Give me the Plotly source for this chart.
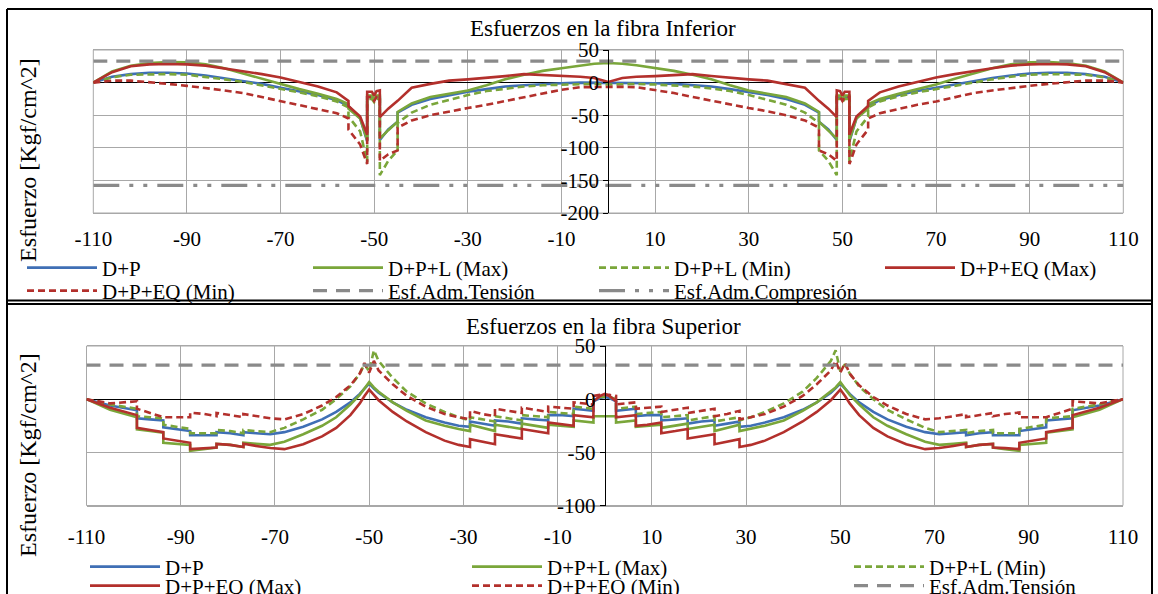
import plotly.graph_objects as go

# ---------------- data ----------------
X_TICKS = [-110, -90, -70, -50, -30, -10, 10, 30, 50, 70, 90, 110]
X_TICK_TEXT = ["-110", "-90", "-70", "-50", "-30", "-10", "10", "30", "50", "70", "90", "110"]
TOP_Y_TICKS = [-200, -150, -100, -50, 0, 50]
TOP_Y_TICK_TEXT = ["-200", "-150", "-100", "-50", "0", "50"]
BOT_Y_TICKS = [-100, -50, 0, 50]
BOT_Y_TICK_TEXT = ["-100", "-50", "0", "50"]

# Top chart: Esfuerzos en la fibra Inferior
TOP_X_L = [-110, -106, -102, -98, -94, -90, -86, -82, -78, -74, -70, -66, -62, -58, -55.5, -55.5, -53, -51.5, -51.5,
           -50.5, -50, -49.5, -48.8, -48.8, -47, -45, -45, -42, -38, -34, -30, -26, -22, -18, -14, -10, -6, -3, 0]
TOP_X_R = [3, 6, 10, 14, 18, 22, 26, 30, 34, 38, 42, 45, 45, 47, 48.8, 48.8, 49.5, 50, 50.5, 51.5, 51.5, 53, 55.5,
           55.5, 58, 62, 66, 70, 74, 78, 82, 86, 90, 94, 98, 102, 106, 110]

top_dp_l = [0, 9, 13, 15, 15, 14, 11, 7, 3, -2, -8, -13, -19, -27, -36, -36, -55, -90, -22, -22, -27, -22, -22, -88,
            -72, -60, -46, -34, -25, -19, -14, -10, -6, -4, -2, -1, 0, 0, -1]
top_dp_r = [0, 0, -1, -2, -4, -6, -10, -14, -19, -25, -34, -46, -60, -72, -88, -22, -22, -27, -22, -22, -90, -55,
            -36, -36, -27, -19, -13, -8, -2, 3, 7, 11, 14, 15, 15, 13, 9, 0]

top_lmax_l = [0, 17, 26, 30, 31.5, 31, 28, 22, 14, 6, -3, -10, -17, -25, -33, -40, -55, -88, -20, -20, -26, -20, -20,
              -86, -73, -60, -45, -32, -22, -17, -12, -4, 5, 12, 18, 22, 26.5, 29, 30]
top_lmax_r = [29, 26.5, 22, 18, 12, 5, -4, -12, -17, -22, -32, -45, -60, -73, -86, -20, -20, -26, -20, -20, -88, -55,
              -40, -33, -25, -17, -10, -3, 6, 14, 22, 28, 31, 31.5, 30, 26, 17, 0]

top_lmin_l = [0, 8, 12, 13, 13, 12, 9, 5, 1, -4, -10, -15, -21, -29, -38, -52, -75, -122, -25, -25, -30, -25, -25,
              -142, -120, -104, -62, -46, -34, -26, -19, -13, -9, -6, -4, -3, -2, -2, -3]
top_lmin_r = [-2, -2, -3, -4, -6, -9, -13, -19, -26, -34, -46, -62, -104, -120, -142, -25, -25, -30, -25, -25, -122,
              -75, -52, -38, -29, -21, -15, -10, -4, 1, 5, 9, 12, 13, 13, 12, 8, 0]

top_eqmax_l = [0, 16, 25, 28, 28.5, 28, 26, 22, 18, 13, 7.7, 1, -6, -15, -28, -36, -52, -80, -14, -14, -20, -13, -12,
               -53, -40, -28, -28, -8, -2, 3, 5, 7, 10, 13, 12, 10, 9, 7, 1]
top_eqmax_r = [7, 9, 10, 12, 13, 10, 7, 5, 3, -2, -8, -28, -28, -40, -53, -12, -13, -20, -14, -14, -80, -52, -36,
               -28, -15, -6, 1, 7.7, 13, 18, 22, 26, 28, 28.5, 28, 25, 16, 0]

top_eqmin_l = [0, 3, 3, 1, -2, -5, -8, -12, -16, -22, -29, -34, -40, -47, -55, -72, -95, -125, -22, -22, -28, -22,
               -22, -120, -110, -104, -69, -58, -50, -44, -39, -34, -28, -22, -16, -11, -7, -6.5, -7]
top_eqmin_r = [-6.5, -7, -11, -16, -22, -28, -34, -39, -44, -50, -58, -69, -104, -110, -120, -22, -22, -28, -22, -22,
               -125, -95, -72, -55, -47, -40, -34, -29, -22, -16, -12, -8, -5, -2, 1, 3, 3, 0]

TOP_LIMIT_X = [-110, 110]
TOP_TENSION = [33, 33]
TOP_COMPRESSION = [-157.5, -157.5]

# Bottom chart: Esfuerzos en la fibra Superior
BOT_X_L = [-110, -105, -99.3, -99.3, -96.5, -93.7, -93.7, -91, -88, -88, -85, -82.4, -82.4, -79.5, -76.7, -76.7, -74,
           -71, -71, -68, -64, -60, -57, -54, -52, -51, -50, -49, -48, -45, -42, -38, -34, -31, -28.6, -28.6, -26,
           -23.3, -23.3, -20.5, -17.6, -17.6, -15, -12, -12, -9, -6.6, -6.6, -4.5, -2.4, -2.4, -1, 0]
BOT_X_R = [1, 2.4, 2.4, 4.5, 6.6, 6.6, 9, 12, 12, 15, 17.6, 17.6, 20.5, 23.3, 23.3, 26, 28.6, 28.6, 31, 34, 38, 42,
           45, 48, 49, 50, 51, 52, 54, 57, 60, 64, 68, 71, 71, 74, 76.7, 76.7, 79.5, 82.4, 82.4, 85, 88, 88, 91, 93.7,
           93.7, 96.5, 99.3, 99.3, 105, 110]

bot_dp_l = [0, -6, -10.5, -18, -19, -20, -26.5, -28, -30, -34, -34, -34, -31, -32, -34, -31, -32, -33, -33, -31, -26,
            -19, -12, -3, 5, 10, 14.6, 10, 6, -3, -10, -17, -22, -25, -26, -21, -23, -25, -20, -21, -23, -18, -19,
            -20, -15, -15, -16, -9, -10, -11, -2, 1, 2]
bot_dp_r = [1, -2, -11, -10, -9, -16, -15, -15, -20, -19, -18, -23, -21, -20, -25, -23, -21, -26, -25, -22, -17, -10,
            -3, 6, 10, 14.6, 10, 5, -3, -12, -19, -26, -31, -33, -33, -32, -31, -34, -32, -31, -34, -34, -34, -30, -28,
            -26.5, -20, -19, -18, -10.5, -6, 0]

bot_lmax_l = [0, -10, -17, -28.5, -30, -31.5, -41, -42, -43, -48.5, -47, -45.5, -42, -43, -45, -41, -42, -43, -43,
              -40, -33, -25, -17, -5, 4, 10, 16, 11, 7, -3, -11, -20, -25, -28, -30, -24, -27, -30, -24, -26, -28,
              -23, -25, -27, -24, -25, -26, -20, -21, -22, -16, -16, -16]
bot_lmax_r = [-16, -16, -22, -21, -20, -26, -25, -24, -27, -25, -23, -28, -26, -24, -30, -27, -24, -30, -28, -25,
              -20, -11, -3, 7, 11, 16, 10, 4, -5, -17, -25, -33, -40, -43, -43, -42, -41, -45, -43, -42, -45.5, -47,
              -48.5, -43, -42, -41, -31.5, -30, -28.5, -17, -10, 0]

bot_lmin_l = [0, -5, -9, -16, -17, -18, -24, -26, -28, -32, -32, -32, -29, -30, -32, -29, -30, -31, -31, -27, -19,
              -10, 0, 12, 24, 33, 26, 46, 36, 20, 7, -4, -12, -17, -20, -17, -19, -21, -16, -18, -20, -15, -16, -17,
              -12, -13, -14, -7, -8, -9, 0, 2, 2]
bot_lmin_r = [2, 0, -9, -8, -7, -14, -13, -12, -17, -16, -15, -20, -18, -16, -21, -19, -17, -20, -17, -12, -4, 7,
              20, 36, 46, 26, 33, 24, 12, 0, -10, -19, -27, -31, -31, -30, -29, -32, -30, -29, -32, -32, -32, -28,
              -26, -24, -18, -17, -16, -9, -5, 0]

bot_eqmax_l = [0, -8, -15, -27, -29, -31, -37, -39, -41, -47, -46, -45.5, -42, -43, -45, -42, -44, -46, -46, -47,
               -42.4, -35, -27, -15, -4, 3, 9, 4, -1, -12, -21, -31, -39, -43, -45, -37.6, -40, -42.4, -33, -35, -37,
               -28, -30, -32, -22, -24, -25, -15, -16, -17, -2, 3, 5]
bot_eqmax_r = [3, -2, -17, -16, -15, -25, -24, -22, -32, -30, -28, -37, -35, -33, -42.4, -40, -37.6, -45, -43, -39,
               -31, -21, -12, -1, 4, 9, 3, -4, -15, -27, -35, -42.4, -47, -46, -46, -44, -42, -45, -43, -42, -45.5,
               -46, -47, -41, -39, -37, -31, -29, -27, -15, -8, 0]

bot_eqmin_l = [0, -4, -2, -9, -13, -17, -17, -17, -17, -12.6, -14, -16, -13, -15, -17, -14, -16, -18, -18, -19, -14,
               -6, 2, 13, 24, 34, 25, 36, 27, 14, 3, -7, -14, -17, -19, -11, -14, -16, -9, -11, -13, -8, -10, -12, -7,
               -8, -9, -3, -4, -5, 3, 4, 4]
bot_eqmin_r = [4, 3, -5, -4, -3, -9, -8, -7, -12, -10, -8, -13, -11, -9, -16, -14, -11, -19, -17, -14, -7, 3, 14,
               27, 36, 25, 34, 24, 13, 2, -6, -14, -19, -18, -18, -16, -14, -17, -15, -13, -16, -14, -12.6, -17, -17,
               -17, -17, -13, -9, -2, -4, 0]

BOT_LIMIT_X = [-110, 110]
BOT_TENSION = [32, 32]

# ---------------- styling / layout ----------------
W, H = 1158, 594


def fx(px):
    return px / W


def fy(py):
    return 1 - py / H


SERIF = "Liberation Serif, Times New Roman, serif"
BLUE = "#3f6fb5"
GREEN = "#7aa63a"
RED = "#b3302c"
GRAY = "#8a8a8a"
GRID = "#a8a8a8"
DASH = "7px,4px"

fig = go.Figure()


def add(name, x, y, color, dash, xa, ya, legend, width=2.6):
    fig.add_trace(go.Scatter(x=x, y=y, mode="lines", name=name,
                             line=dict(color=color, width=width, dash=dash),
                             xaxis=xa, yaxis=ya, legend=legend, hoverinfo="skip"))


top_x = TOP_X_L + TOP_X_R
add("D+P", top_x, top_dp_l + top_dp_r, BLUE, "solid", "x", "y", "legend")
add("D+P+L (Max)", top_x, top_lmax_l + top_lmax_r, GREEN, "solid", "x", "y", "legend")
add("D+P+L (Min)", top_x, top_lmin_l + top_lmin_r, GREEN, DASH, "x", "y", "legend")
add("D+P+EQ (Max)", top_x, top_eqmax_l + top_eqmax_r, RED, "solid", "x", "y", "legend")
add("D+P+EQ (Min)", top_x, top_eqmin_l + top_eqmin_r, RED, DASH, "x", "y", "legend2")
add("Esf.Adm.Tensión", TOP_LIMIT_X, TOP_TENSION, GRAY, "14px,9px", "x", "y", "legend2", 3.2)
add("Esf.Adm.Compresión", TOP_LIMIT_X, TOP_COMPRESSION, GRAY, "26px,10px,4px,10px,4px,10px", "x", "y", "legend2", 3.2)

bot_x = BOT_X_L + BOT_X_R
add("D+P", bot_x, bot_dp_l + bot_dp_r, BLUE, "solid", "x2", "y2", "legend3")
add("D+P+L (Max)", bot_x, bot_lmax_l + bot_lmax_r, GREEN, "solid", "x2", "y2", "legend3")
add("D+P+L (Min)", bot_x, bot_lmin_l + bot_lmin_r, GREEN, DASH, "x2", "y2", "legend3")
add("D+P+EQ (Max)", bot_x, bot_eqmax_l + bot_eqmax_r, RED, "solid", "x2", "y2", "legend4")
add("D+P+EQ (Min)", bot_x, bot_eqmin_l + bot_eqmin_r, RED, DASH, "x2", "y2", "legend4")
add("Esf.Adm.Tensión", BOT_LIMIT_X, BOT_TENSION, GRAY, "14px,9px", "x2", "y2", "legend4", 3.2)

tickfont = dict(family=SERIF, size=21, color="black")


def xaxis(domain, anchor, standoff):
    return dict(domain=domain, range=[-110, 110], tickmode="array", tickvals=X_TICKS, ticktext=X_TICK_TEXT,
                showgrid=True, gridcolor=GRID, gridwidth=1, zeroline=False,
                showline=True, linecolor=GRID, mirror=True, ticks="", tickfont=tickfont,
                anchor=anchor, ticklabelstandoff=standoff, fixedrange=True, automargin=False)


def yaxis(domain, rng, tickvals, ticktext, pos):
    return dict(domain=domain, range=rng, tickmode="array", tickvals=tickvals, ticktext=ticktext,
                showgrid=True, gridcolor=GRID, gridwidth=1,
                zeroline=True, zerolinecolor="black", zerolinewidth=1,
                showline=True, linecolor="black", linewidth=1,
                ticks="outside", ticklen=5, tickcolor="black", tickfont=tickfont,
                anchor="free", position=pos, fixedrange=True, automargin=False)


legend_common = dict(orientation="h", xanchor="left", yanchor="middle", bgcolor="rgba(0,0,0,0)",
                     font=dict(family=SERIF, size=21, color="black"), itemwidth=70,
                     tracegroupgap=0, entrywidthmode="pixels")

fig.update_layout(
    width=W, height=H, margin=dict(l=0, r=0, t=0, b=0, autoexpand=False),
    paper_bgcolor="white", plot_bgcolor="white", hovermode=False,
    xaxis=xaxis([fx(93.3), fx(1123.3)], "y", 7),
    yaxis=yaxis([fy(213), fy(50)], [-200, 50], TOP_Y_TICKS, TOP_Y_TICK_TEXT, fx(608.3)),
    xaxis2=xaxis([fx(86.5), fx(1123)], "y2", 12),
    yaxis2=yaxis([fy(505.5), fy(346)], [-100, 50], BOT_Y_TICKS, BOT_Y_TICK_TEXT, fx(604.6)),
    legend=dict(legend_common, x=fx(22), y=fy(268), entrywidth=201),
    legend2=dict(legend_common, x=fx(22), y=fy(291), entrywidth=201),
    legend3=dict(legend_common, x=fx(85), y=fy(567), entrywidth=297),
    legend4=dict(legend_common, x=fx(85), y=fy(586), entrywidth=297),
)

# plot-area side borders
for xr, yr in (("x domain", "y domain"), ("x2 domain", "y2 domain")):
    fig.add_shape(type="rect", xref=xr, yref=yr, x0=0, x1=1, y0=0, y1=1,
                  line=dict(color=GRID, width=1), layer="below")

# panel frames
frame = dict(color="black", width=2)
fig.add_shape(type="line", xref="paper", yref="paper", x0=fx(7), x1=fx(7), y0=fy(9), y1=0, line=frame)
fig.add_shape(type="line", xref="paper", yref="paper", x0=fx(1152), x1=fx(1152), y0=fy(9), y1=0, line=frame)
fig.add_shape(type="line", xref="paper", yref="paper", x0=fx(7), x1=fx(1152), y0=fy(9), y1=fy(9), line=frame)
fig.add_shape(type="line", xref="paper", yref="paper", x0=fx(7), x1=fx(1152), y0=fy(300.5), y1=fy(300.5), line=frame)
fig.add_shape(type="line", xref="paper", yref="paper", x0=fx(7), x1=fx(1152), y0=fy(304), y1=fy(304), line=frame)

# titles
for txt, yc in (("Esfuerzos en la fibra Inferior", 28), ("Esfuerzos en la fibra Superior", 326)):
    fig.add_annotation(text=txt, x=fx(603), y=fy(yc), xref="paper", yref="paper", xanchor="center",
                       yanchor="middle", showarrow=False, font=dict(family=SERIF, size=23, color="black"))
for yc in (160, 455):
    fig.add_annotation(text="Esfuerzo [Kgf/cm^2]", x=fx(28), y=fy(yc), xref="paper", yref="paper",
                       xanchor="center", yanchor="middle",
                       showarrow=False, textangle=-90, font=dict(family=SERIF, size=24, color="black"))

fig.write_html("out.html", config={"displayModeBar": False, "staticPlot": True},
               post_script="document.body.style.margin='0px';document.body.style.overflow='hidden';")
